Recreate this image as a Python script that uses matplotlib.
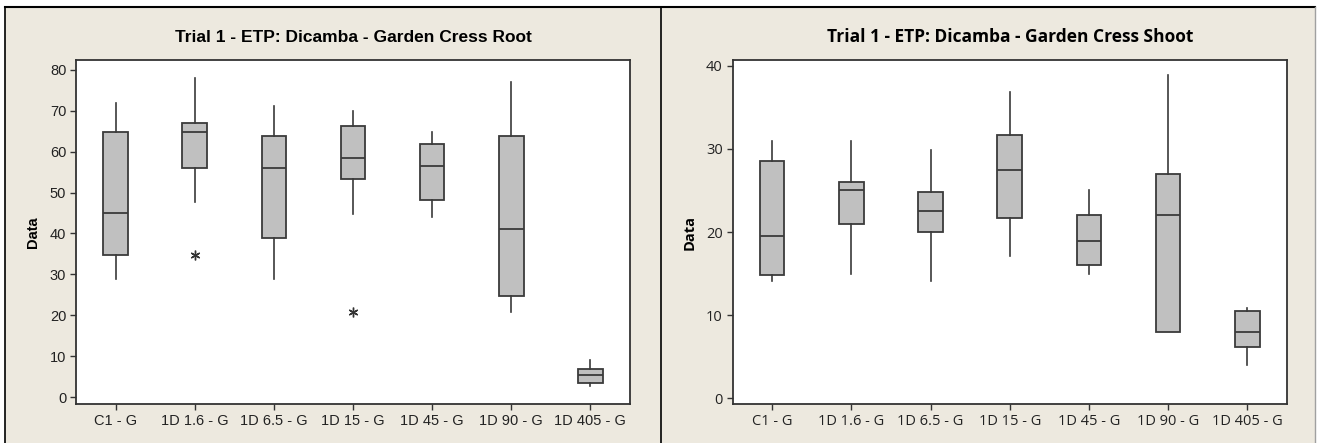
import numpy as np
import matplotlib.pyplot as plt
from matplotlib.lines import Line2D

groups = ["C1 - G", "1D 1.6 - G", "1D 6.5 - G", "1D 15 - G", "1D 45 - G", "1D 90 - G", "1D 405 - G"]

# Root: whisker low, Q1, median, Q3, whisker high
root_low = [28.8, 47.8, 28.8, 44.7, 43.9, 20.8, 2.6]
root_q1 = [34.7, 56.0, 39.0, 53.2, 48.2, 24.8, 3.5]
root_med = [44.9, 64.9, 56.0, 58.5, 56.6, 41.0, 5.3]
root_q3 = [64.8, 66.9, 63.8, 66.3, 61.8, 63.8, 6.9]
root_high = [71.9, 78.0, 71.2, 70.0, 64.9, 77.1, 9.0]
root_out = [[], [34.7], [], [20.7], [], [], []]

# Shoot
shoot_low = [14.05, 15.0, 14.05, 17.1, 15.0, 8.0, 4.05]
shoot_q1 = [14.8, 21.0, 20.0, 21.7, 16.0, 8.0, 6.2]
shoot_med = [19.5, 25.0, 22.55, 27.5, 18.9, 22.0, 8.0]
shoot_q3 = [28.5, 26.0, 24.8, 31.7, 22.0, 27.0, 10.5]
shoot_high = [30.9, 30.9, 29.9, 36.8, 25.0, 38.9, 10.9]
shoot_out = [[], [], [], [], [], [], []]

bg = "#EDE9DF"
W, H = 1317, 443
fig = plt.figure(figsize=(W / 100, H / 100), dpi=100)
fig.patch.set_facecolor("white")

# beige panel + border lines
fig.add_artist(plt.Rectangle((5 / W, 0), (1315 - 5) / W, (H - 7) / H, transform=fig.transFigure,
                             facecolor=bg, edgecolor="none", zorder=0))
fig.add_artist(Line2D([5 / W, 1315 / W], [1 - 7 / H, 1 - 7 / H], color="black", lw=1.5))
fig.add_artist(Line2D([5 / W, 5 / W], [0, 1 - 7 / H], color="black", lw=1.2))
fig.add_artist(Line2D([661 / W, 661 / W], [0, 1 - 7 / H], color="black", lw=1.2))
fig.add_artist(Line2D([1315 / W, 1315 / W], [0, 1 - 7 / H], color="#a0a0a0", lw=1.0))


def make_stats(low, q1, med, q3, high, out):
    stats = []
    for i in range(len(low)):
        stats.append(dict(whislo=low[i], q1=q1[i], med=med[i], q3=q3[i], whishi=high[i],
                          fliers=out[i], label=groups[i]))
    return stats


def draw(ax, stats, title, ylim, yticks, font):
    edge = "#3a3a3a"
    ax.bxp(stats, positions=np.arange(1, 8), widths=0.31, patch_artist=True, showcaps=False,
           boxprops=dict(facecolor="#C0C0C0", edgecolor=edge, linewidth=1.3),
           medianprops=dict(color=edge, linewidth=1.3),
           whiskerprops=dict(color=edge, linewidth=1.2),
           flierprops=dict(marker=(6, 2, 0), markersize=7, markeredgecolor="#333333",
                           markeredgewidth=1.0, linestyle="none"))
    ax.set_xlim(0.5, 7.5)
    ax.set_ylim(*ylim)
    ax.set_yticks(yticks)
    ax.set_xticks(np.arange(1, 8))
    ax.set_xticklabels(groups, fontsize=10.5, family=font, color="#222222")
    for lab in ax.get_yticklabels():
        lab.set_fontsize(10.5)
        lab.set_family(font)
        lab.set_color("#222222")
    ax.tick_params(length=4, width=1, color="#333333", pad=3)
    for s in ax.spines.values():
        s.set_linewidth(1.3)
        s.set_color("#333333")
    ax.set_ylabel("Data", fontsize=10.5, fontweight="bold", family=font, labelpad=7)
    ax.set_title(title, fontsize=12.5, fontweight="bold", family=font, pad=13)


ax1 = fig.add_axes([76 / W, 39 / H, 554 / W, 344 / H])
draw(ax1, make_stats(root_low, root_q1, root_med, root_q3, root_high, root_out),
     "Trial 1 - ETP: Dicamba - Garden Cress Root", (-1.7, 82.4), range(0, 81, 10), "Liberation Sans")

ax2 = fig.add_axes([732.5 / W, 39 / H, 554.5 / W, 344 / H])
draw(ax2, make_stats(shoot_low, shoot_q1, shoot_med, shoot_q3, shoot_high, shoot_out),
     "Trial 1 - ETP: Dicamba - Garden Cress Shoot", (-0.7, 40.7), range(0, 41, 10), "Open Sans")

fig.savefig("out.png", dpi=100, facecolor=fig.get_facecolor())
